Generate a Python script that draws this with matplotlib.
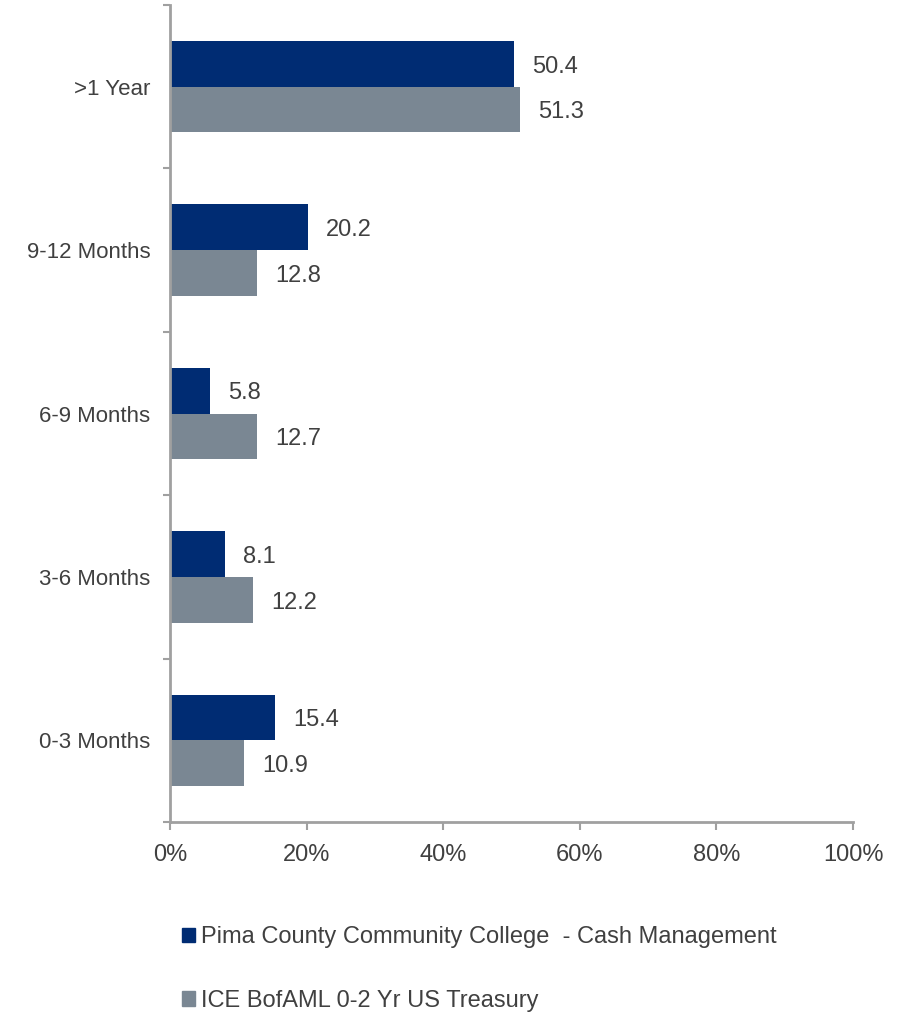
import numpy as np
import matplotlib.pyplot as plt
from matplotlib.patches import Patch

# Maturity distribution, % of portfolio
categories = ["0-3 Months", "3-6 Months", "6-9 Months", "9-12 Months", ">1 Year"]
pima_values = [15.4, 8.1, 5.8, 20.2, 50.4]
ice_values = [10.9, 12.2, 12.7, 12.8, 51.3]
series_names = ["Pima County Community College  - Cash Management",
                "ICE BofAML 0-2 Yr US Treasury"]
x_ticks = [0, 20, 40, 60, 80, 100]

NAVY = "#002C73"
GRAY = "#7A8793"
TEXT = "#404040"
AXIS = "#A0A0A0"

plt.rcParams['font.family'] = ['Liberation Sans', 'DejaVu Sans']

fig = plt.figure(figsize=(9.07, 10.14), dpi=100)
ax = fig.add_axes([0.1874, 0.1893, 0.7531, 0.8058])

y = np.arange(len(categories))
h = 0.28
ax.barh(y + h / 2, pima_values, height=h, color=NAVY, label=series_names[0])
ax.barh(y - h / 2, ice_values, height=h, color=GRAY, label=series_names[1])

for yi, v in zip(y, pima_values):
    ax.annotate(f"{v:.1f}", (v, yi + h / 2), xytext=(13, -2), textcoords="offset points",
                va="center", ha="left", fontsize=17, color=TEXT)
for yi, v in zip(y, ice_values):
    ax.annotate(f"{v:.1f}", (v, yi - h / 2), xytext=(13, -2), textcoords="offset points",
                va="center", ha="left", fontsize=17, color=TEXT)

ax.set_xlim(0, 100)
ax.set_ylim(-0.5, len(categories) - 0.5)
ax.set_xticks(x_ticks)
ax.set_xticklabels([f"{t}%" for t in x_ticks])

# category labels centred, tick marks on the category boundaries
ax.set_yticks(y)
ax.set_yticklabels(categories)
ax.set_yticks(np.arange(-0.5, len(categories)), minor=True)
ax.tick_params(axis='y', which='major', length=0, pad=14, labelsize=16, labelcolor=TEXT)
ax.tick_params(axis='y', which='minor', length=5, width=1.5, color=AXIS)
ax.tick_params(axis='x', length=6, width=1.5, color=AXIS, pad=10, labelsize=17, labelcolor=TEXT)

for side in ['top', 'right']:
    ax.spines[side].set_visible(False)
for side in ['left', 'bottom']:
    ax.spines[side].set_color(AXIS)
    ax.spines[side].set_linewidth(2)

handles = [Patch(color=NAVY), Patch(color=GRAY)]
fig.legend(handles, series_names, loc='upper left', bbox_to_anchor=(0.188, 0.098),
           frameon=False, fontsize=17, handlelength=0.55, handleheight=0.55,
           handletextpad=0.25, labelspacing=1.75, labelcolor=TEXT, borderpad=0)

fig.savefig("out.png", dpi=100)
